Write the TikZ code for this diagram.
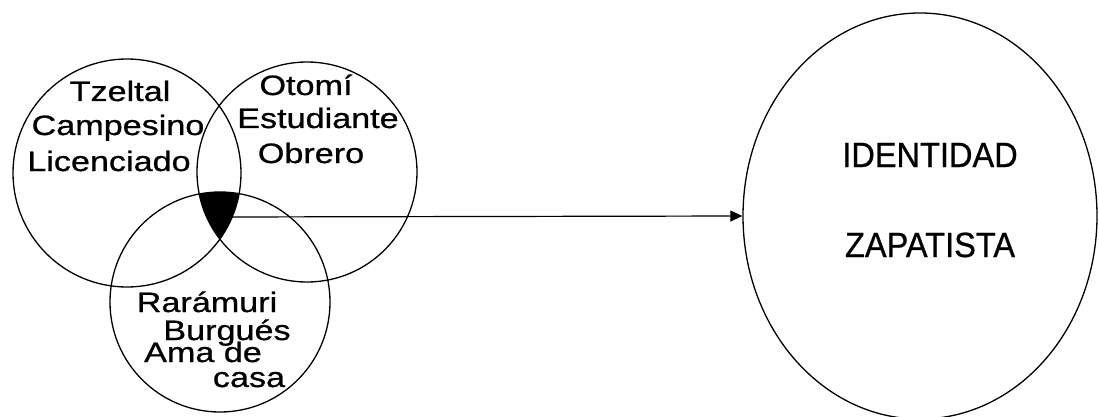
\documentclass[tikz,border=0pt]{standalone}
\usepackage{fontspec}
\usepackage{graphicx}
\setmainfont{Liberation Sans}
\newfontfamily\heavy{Liberation Sans}[FakeBold=0.7]
\usetikzlibrary{shapes.geometric,arrows.meta}
\newcommand\sx[1]{\scalebox{1.22}[1]{#1}}
\newcommand\sn[1]{\scalebox{0.93}[1]{#1}}
\begin{document}
\begin{tikzpicture}[x=1pt,y=-1pt,
  ring/.style={circle,draw,line width=1.3pt,inner sep=0},
  lbl/.style={anchor=base,inner sep=0,font=\heavy\fontsize{28}{28}\selectfont},
  big/.style={anchor=base,inner sep=0,font=\heavy\fontsize{35}{35}\selectfont},
  conn/.style={line width=1.2pt,-{Triangle[length=12pt,width=11pt]}}]
\useasboundingbox (0,0) rectangle (1099,417);
\coordinate (cL) at (127,173);
\coordinate (cR) at (307,172);
\coordinate (cB) at (220,302);
% triple intersection
\begin{scope}
  \clip (cL) circle (114);
  \clip (cR) circle (110);
  \fill (cB) circle (110);
\end{scope}
\node[ring,minimum size=228pt] (L) at (cL) {};
\node[ring,minimum size=220pt] (R) at (cR) {};
\node[ring,minimum size=220pt] (B) at (cB) {};
\node[ellipse,draw,line width=1.3pt,minimum width=354pt,minimum height=406pt,inner sep=0] (Z) at (920,216) {};
% left labels
\node[lbl] (l1) at (120,101) {\sx{Tzeltal}};
\node[lbl] (l2) at (118,135) {\sx{Campesino}};
\node[lbl] (l3) at (109,171) {\sx{Licenciado}};
% right labels
\node[lbl] (r1) at (306,95) {\sx{Otomí}};
\node[lbl] (r2) at (318,128) {\sx{Estudiante}};
\node[lbl] (r3) at (311,163) {\sx{Obrero}};
% bottom labels
\node[lbl] (b1) at (207,312) {\sx{Rarámuri}};
\node[lbl] (b2) at (227,340) {\sx{Burgués}};
\node[lbl] (b3) at (203,362) {\sx{Ama de}};
\node[lbl] (b4) at (249,387) {\sx{casa}};
% big labels
\node[big] (z1) at (930,167) {\sn{IDENTIDAD}};
\node[big] (z2) at (930,257) {\sn{ZAPATISTA}};
% arrow
\coordinate (tri) at (226,217);
\draw[conn] (tri) -- (Z.west);
\end{tikzpicture}
\end{document}
